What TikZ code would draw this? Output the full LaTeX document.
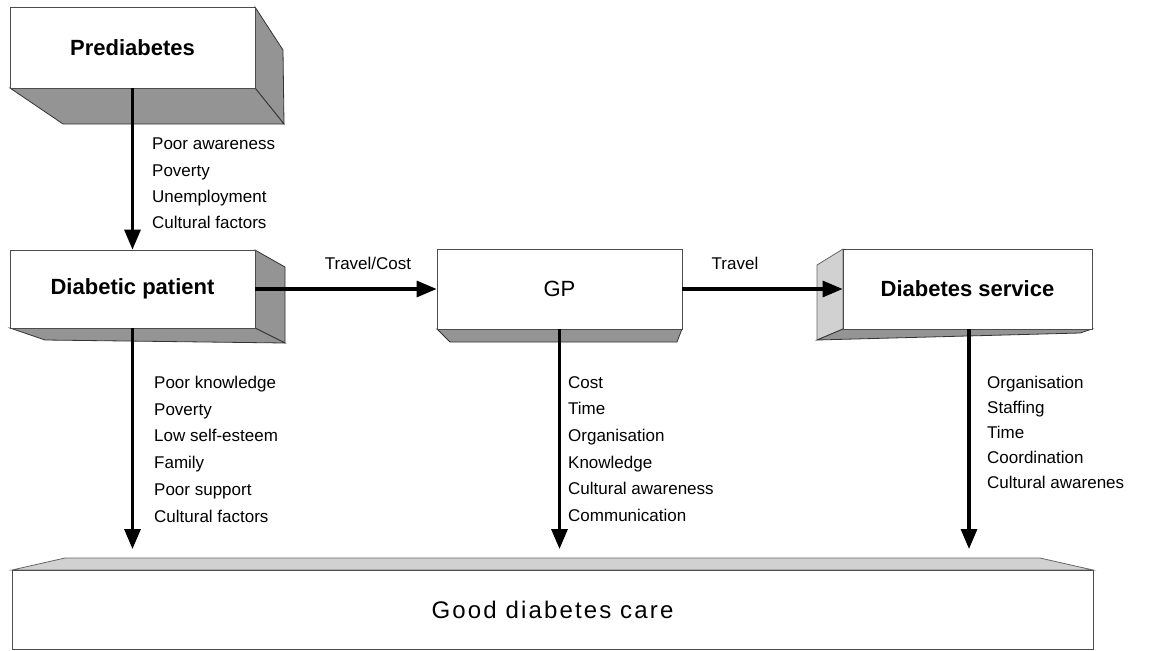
\documentclass[tikz,border=0pt]{standalone}
\usepackage{fontspec}
\setmainfont{Liberation Sans}
\usetikzlibrary{arrows.meta}
\begin{document}
\begin{tikzpicture}[x=1pt,y=-1pt,
  front/.style={draw=black!70, line width=0.8pt, fill=white, inner sep=0pt},
  sideface/.style={draw=black!80, line width=0.8pt, fill=black!42},
  lightface/.style={draw=black!60, line width=0.8pt, fill=black!18},
  title/.style={font=\fontsize{22}{26}\selectfont\bfseries},
  lbl/.style={font=\fontsize{17}{26.3}\selectfont, align=left, anchor=north west, inner sep=0pt},
  flow/.style={line width=3.2pt, -{Triangle[length=20pt,width=16pt]}},
]
\useasboundingbox (0,0) rectangle (1152,651);

% --- 3D faces ---
\draw[sideface] (255,7) -- (283,50) -- (284,124) -- (255,88) -- cycle;
\draw[sideface] (10,88) -- (255,88) -- (284,124) -- (63,124) -- cycle;

\draw[sideface] (255,250) -- (285,267) -- (285,343) -- (255,328) -- cycle;
\draw[sideface] (10,328) -- (255,328) -- (285,343) -- (45,340) -- cycle;

\draw[sideface] (437,329) -- (682,329) -- (677,342) -- (450,342) -- cycle;

\draw[lightface] (843,249) -- (817,265) -- (817,340) -- (843,329) -- cycle;
\draw[sideface] (817,340) -- (843,329) -- (1092,329) -- (1080,333) -- cycle;

\draw[lightface] (12,570) -- (65,558) -- (1040,558) -- (1093,570) -- cycle;

% --- front faces ---
\node[front, title, minimum width=245pt, minimum height=81pt] (pre) at (132.5,47.5) {Prediabetes};
\node[front, title, minimum width=245pt, minimum height=78pt] (dp) at (132.5,289) {Diabetic patient};
\node[front, font=\fontsize{22}{26}\selectfont, minimum width=245pt, minimum height=80pt] (gp) at (559.5,289) {GP};
\node[front, title, minimum width=249pt, minimum height=80pt] (ds) at (967.5,289) {Diabetes service};
\node[front, minimum width=1081pt, minimum height=79pt,
      font=\fontsize{24}{28}\selectfont\addfontfeatures{LetterSpace=9}] (good) at (552.5,609.5) {Good diabetes care};

\coordinate (gtop) at (0,549);

% --- connectors ---
\draw[flow] (pre.south) -- (dp.north);
\draw[flow] (dp.east) -- (gp.west);
\draw[flow] (gp.east) -- (ds.west);
\draw[flow] (dp.south) -- (dp.south |- gtop);
\draw[flow] (gp.south) -- (gp.south |- gtop);
\draw[flow] ([xshift=1.5pt]ds.south) -- ([xshift=1.5pt]ds.south |- gtop);

% --- labels ---
\node[lbl] (lpre) at (152,138) {Poor awareness\\Poverty\\Unemployment\\Cultural factors};
\node[font=\fontsize{17}{20}\selectfont, inner sep=0pt] (ltc) at (368,263) {Travel/Cost};
\node[font=\fontsize{17}{20}\selectfont, inner sep=0pt] (ltr) at (735,263) {Travel};
\node[lbl, font=\fontsize{17}{26.7}\selectfont] (ldp) at (154,376) {Poor knowledge\\Poverty\\Low self-esteem\\Family\\Poor support\\Cultural factors};
\node[lbl, font=\fontsize{17}{26.7}\selectfont] (lgp) at (568,376) {Cost\\Time\\Organisation\\Knowledge\\Cultural awareness\\Communication};
\node[lbl, font=\fontsize{17}{25}\selectfont] (lds) at (987,376) {Organisation\\Staffing\\Time\\Coordination\\Cultural awarenes};
\end{tikzpicture}
\end{document}
